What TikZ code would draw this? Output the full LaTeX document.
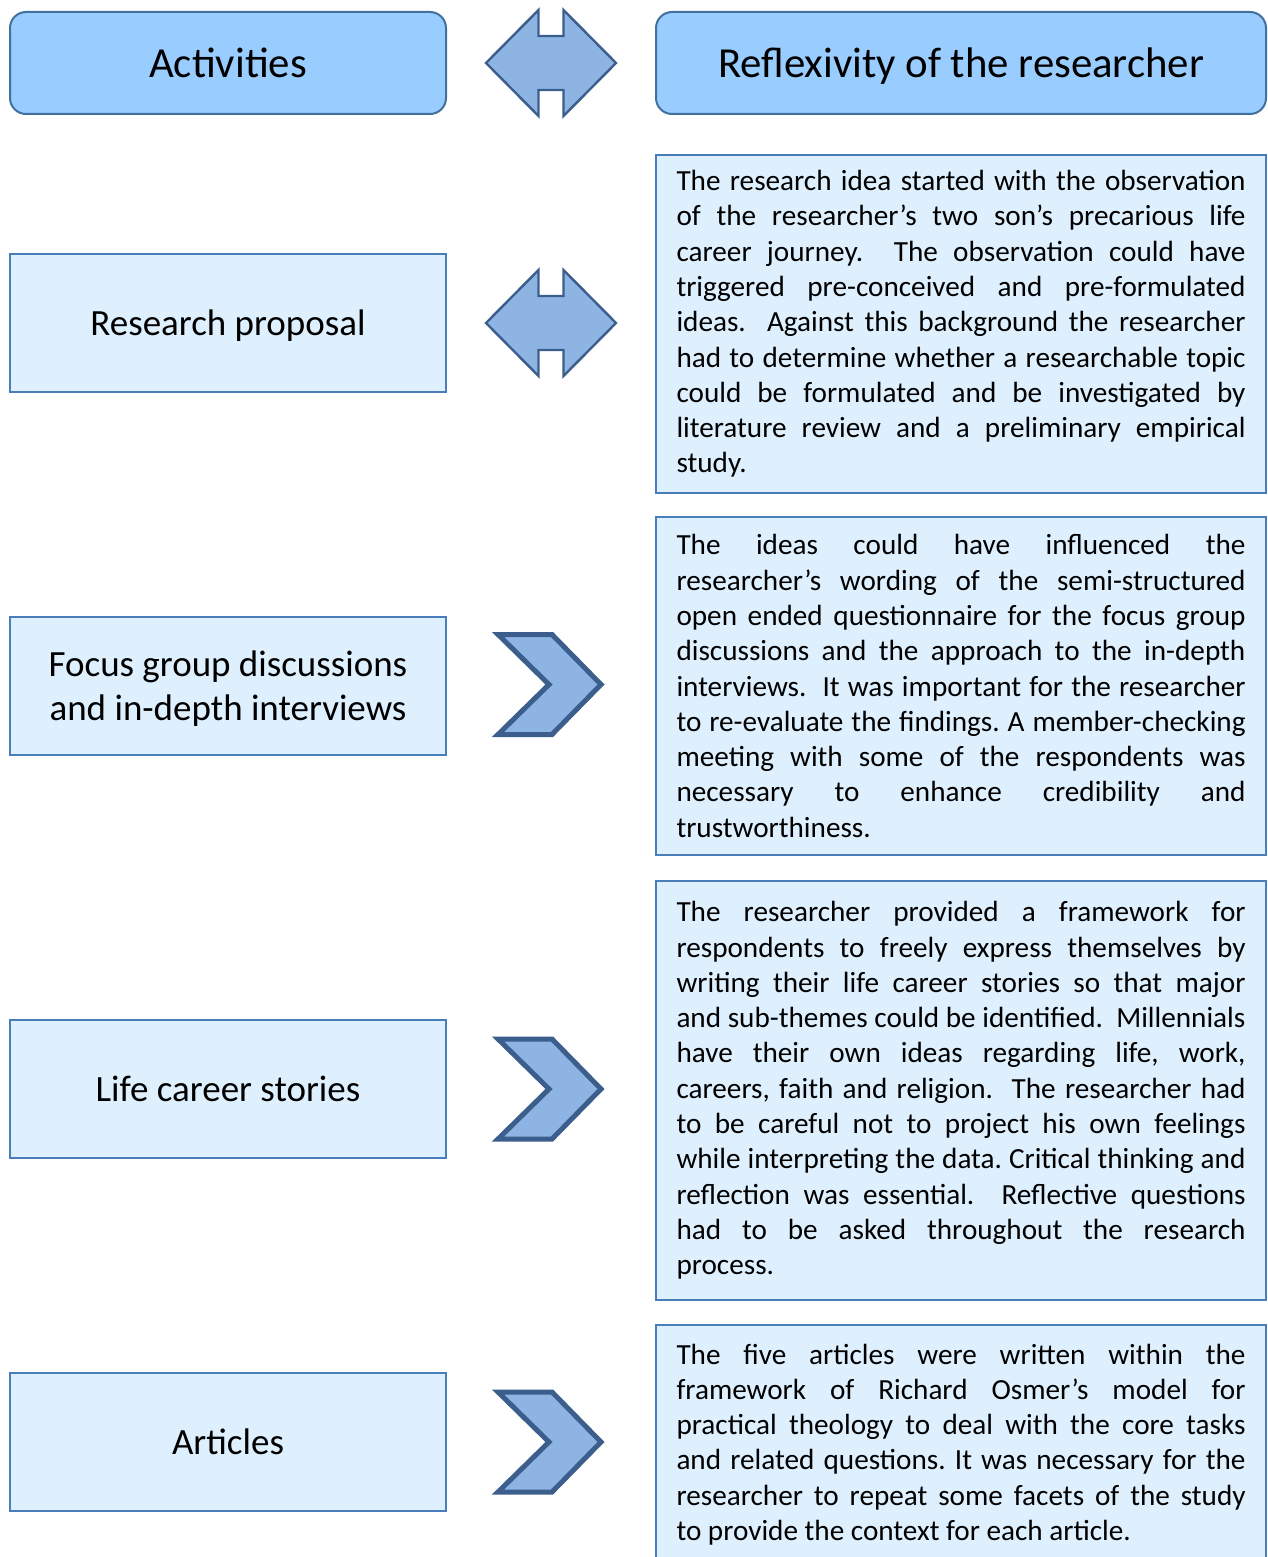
\documentclass[tikz,border=0pt]{standalone}
\usepackage{fontspec}
\setmainfont{Carlito}
\definecolor{hdrfill}{HTML}{99CCFF}
\definecolor{hdrline}{HTML}{41719C}
\definecolor{boxfill}{HTML}{DEEFFE}
\definecolor{boxline}{HTML}{4A7EBB}
\definecolor{arrfill}{HTML}{8EB4E3}
\definecolor{arrline}{HTML}{3B5E8C}
\newcommand\jline[1]{\noindent\hbox to 284.5pt{\frenchspacing\spaceskip=0pt\xspaceskip=0pt #1}\par}
\newcommand\lastline[1]{\noindent\hbox{\frenchspacing\spaceskip=0pt\xspaceskip=0pt #1}\par}
\tikzset{
  hdr/.style={draw=hdrline, fill=hdrfill, line width=1pt, rounded corners=8pt,
    minimum height=51pt, text height=17pt, text depth=2.6pt,
    font=\fontsize{21.4pt}{25pt}\selectfont},
  lbox/.style={draw=boxline, fill=boxfill, line width=1pt, minimum width=218pt,
    minimum height=69pt, align=center, text height=12.8pt, text depth=0pt,
    font=\fontsize{18.5pt}{22pt}\selectfont},
  rbox/.style={draw=boxline, fill=boxfill, line width=1pt, minimum width=305pt,
    text width=284.5pt, inner xsep=10.25pt, inner ysep=0pt,
    font=\fontsize{14.6pt}{17.65pt}\selectfont},
  arrstyle/.style={draw=arrline, fill=arrfill, line join=miter},
  dblarrow/.pic={\path[arrstyle, line width=1.2pt] (-65,0) -- (-12.5,-53) -- (-12.5,-27)
     -- (12.5,-27) -- (12.5,-53) -- (65,0) -- (12.5,53) -- (12.5,27) -- (-12.5,27)
     -- (-12.5,53) -- cycle;},
  chevron/.pic={\path[arrstyle, line width=2.5pt] (-52,-50) -- (2,-50) -- (51,0)
     -- (2,50) -- (-52,50) -- (-1,0) -- cycle;}
}
\begin{document}
\begin{tikzpicture}[x=0.5pt,y=-0.5pt]
\useasboundingbox (0,0) rectangle (1268,1557);
\clip (0,0) rectangle (1268,1557);
% headers
\node[hdr, minimum width=218pt] (act) at (228,63) {Activities};
\node[hdr, minimum width=305pt] (refl) at (961,63) {Reflexivity of the researcher};
\pic at (551,63) {dblarrow};
% left boxes
\node[lbox] (rp) at (228,323) {Research proposal};
\node[lbox, inner ysep=0pt, text height=38pt, text depth=2.9pt] (fg) at (228,685.5) {Focus group discussions\\and in-depth interviews};
\node[lbox] (lc) at (228,1089) {Life career stories};
\node[lbox] (ar) at (228,1442) {Articles};
% arrows
\pic at (551,323) {dblarrow};
\pic at (550,684.5) {chevron};
\pic at (550,1089) {chevron};
\pic at (550,1442) {chevron};
% right boxes
\node[rbox, minimum height=169pt] (r1) at (961,324) {%
\jline{The research idea started with the observation}%
\jline{of the researcher’s two son’s precarious life}%
\jline{career journey.\ \ The observation could have}%
\jline{triggered pre-conceived and pre-formulated}%
\jline{ideas.\ \ Against this background the researcher}%
\jline{had to determine whether a researchable topic}%
\jline{could be formulated and be investigated by}%
\jline{literature review and a preliminary empirical}%
\lastline{study.}};
\node[rbox, minimum height=169pt] (r2) at (961,686) {%
\jline{The ideas could have influenced the}%
\jline{researcher’s wording of the semi-structured}%
\jline{open ended questionnaire for the focus group}%
\jline{discussions and the approach to the in-depth}%
\jline{interviews.\ \ It was important for the researcher}%
\jline{to re-evaluate the findings. A member-checking}%
\jline{meeting with some of the respondents was}%
\jline{necessary to enhance credibility and}%
\lastline{trustworthiness.}};
\node[rbox, minimum height=209.5pt] (r3) at (961,1090.5) {%
\jline{The researcher provided a framework for}%
\jline{respondents to freely express themselves by}%
\jline{writing their life career stories so that major}%
\jline{and sub-themes could be identified.\ \ Millennials}%
\jline{have their own ideas regarding life, work,}%
\jline{careers, faith and religion.\ \ The researcher had}%
\jline{to be careful not to project his own feelings}%
\jline{while interpreting the data. Critical thinking and}%
\jline{reflection was essential.\ \ Reflective questions}%
\jline{had to be asked throughout the research}%
\lastline{process.}};
\node[rbox, minimum height=119.5pt] (r4) at (961,1444.5) {%
\jline{The five articles were written within the}%
\jline{framework of Richard Osmer’s model for}%
\jline{practical theology to deal with the core tasks}%
\jline{and related questions. It was necessary for the}%
\jline{researcher to repeat some facets of the study}%
\lastline{to provide the context for each article.}};
\end{tikzpicture}
\end{document}
